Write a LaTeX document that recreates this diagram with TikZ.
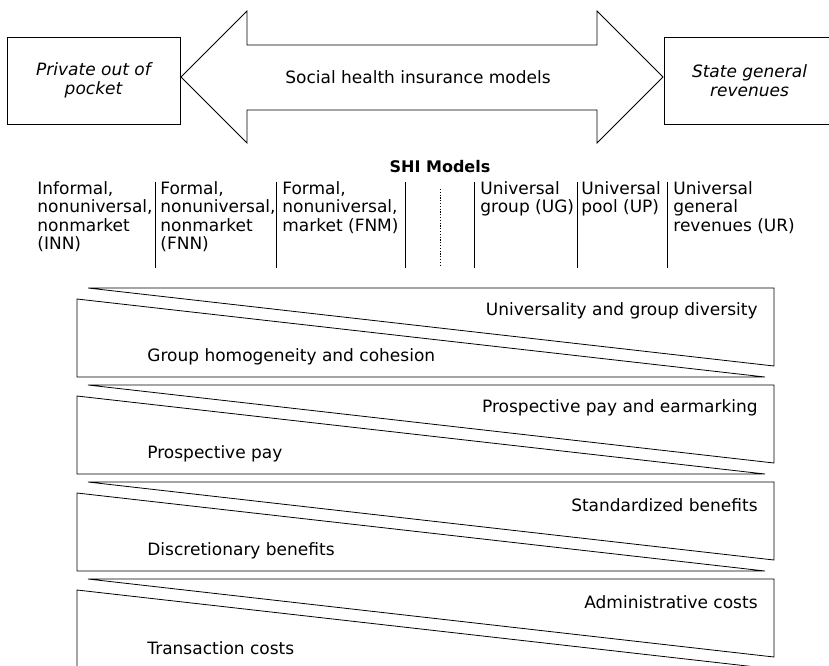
\documentclass[tikz,border=0pt]{standalone}
\usepackage{fontspec}
\setmainfont{DejaVu Sans}
\usetikzlibrary{positioning}

\begin{document}
\begin{tikzpicture}[x=1pt, y=-1pt, line width=0.8pt,
  font=\fontsize{17}{18.5}\selectfont,
  endbox/.style={draw, inner sep=0pt, align=center, minimum height=87pt, font=\fontsize{17}{18.5}\selectfont\itshape},
  colhead/.style={anchor=north west, inner sep=0pt, align=left},
  bandtext/.style={inner sep=0pt}]
\useasboundingbox (0,0) rectangle (829,665);
% the two ends of the financing range
\node[endbox, minimum width=173pt] (priv) at (93.5,80.5) {Private out of\\pocket};
\node[endbox, minimum width=171pt] (state) at (749.5,80.5) {State general\\revenues};
\draw (181,77) -- (247,11) -- (247,45) -- (597,45) -- (597,11) -- (663,77)
  -- (597,143) -- (597,110) -- (247,110) -- (247,143) -- cycle;
\node (range) at (418,77) {Social health insurance models};

% model columns
\node[font=\fontsize{16}{18}\selectfont\bfseries] (shi) at (440,167) {SHI Models};
\node[colhead] (inn) at (37,181) {Informal,\\nonuniversal,\\nonmarket\\(INN)};
\node[colhead] (fnn) at (160,181) {Formal,\\nonuniversal,\\nonmarket\\(FNN)};
\node[colhead] (fnm) at (282,181) {Formal,\\nonuniversal,\\market (FNM)};
\node[colhead] (ug) at (480,181) {Universal\\group (UG)};
\node[colhead] (up) at (581,181) {Universal\\pool (UP)};
\node[colhead] (ur) at (673,181) {Universal\\general\\revenues (UR)};
\foreach \x in {155,276,405,474,577,667}
  \draw (\x,182) -- (\x,268);
\draw[dash pattern=on 1.2pt off 1.6pt] (440,189) -- (440,267);

% trade-off wedges
\foreach \t/\hi/\lo [count=\i] in {288/Universality and group diversity/Group homogeneity and cohesion,
    385/Prospective pay and earmarking/Prospective pay,
    482/Standardized benefits/Discretionary benefits,
    579/Administrative costs/Transaction costs} {
  \draw (88,\t) -- (774,\t) -- (774,\t+78) -- cycle;
  \draw (77,\t+11) -- (765,\t+89) -- (77,\t+89) -- cycle;
  \node[bandtext, anchor=east] (hi\i) at (758,\t+23) {\hi};
  \node[bandtext, anchor=west] (lo\i) at (147,\t+69) {\lo};
}
\end{tikzpicture}
\end{document}
